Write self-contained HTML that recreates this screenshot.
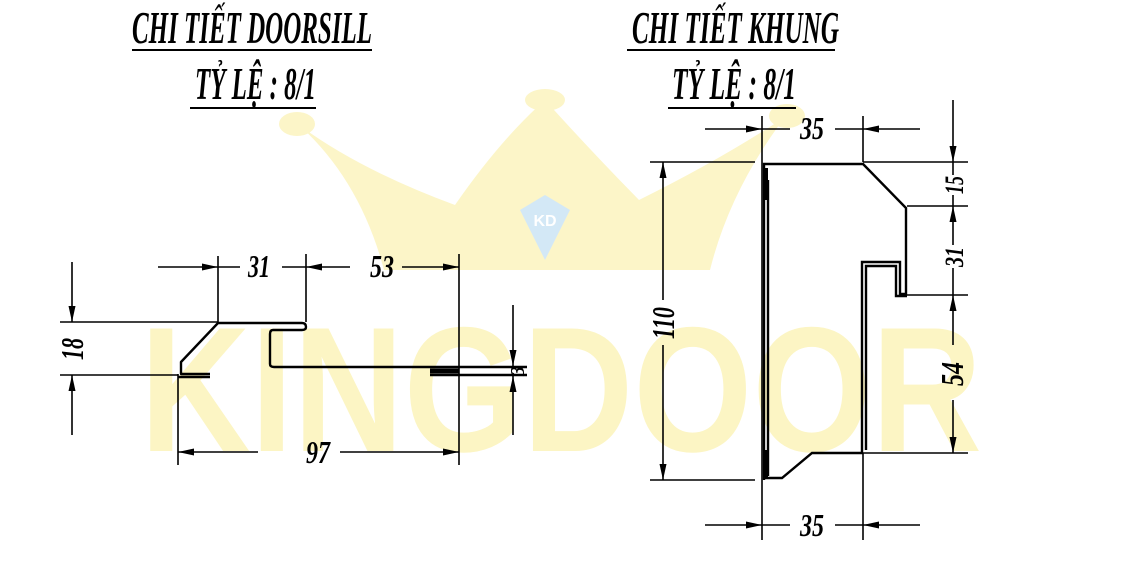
<!DOCTYPE html>
<html><head><meta charset="utf-8"><style>
html,body{margin:0;padding:0;background:#fff;}
svg{display:block;}
.t{font-family:"Liberation Serif",serif;font-style:italic;font-weight:bold;fill:#000;}
</style></head><body>
<svg width="1122" height="568" viewBox="0 0 1122 568" xmlns="http://www.w3.org/2000/svg">
<defs>
<marker id="a" viewBox="0 0 16 7" refX="16" refY="3.5" markerWidth="16" markerHeight="7" orient="auto" markerUnits="userSpaceOnUse" overflow="visible">
<path d="M0,0 L16,3.5 L0,7 z" fill="#000"/>
</marker>
</defs>
<!-- watermark crown -->
<g fill="#fcf5c8">
<path d="M299,125 Q360,170 455,205 Q500,140 545,100 Q590,150 639,200 Q720,160 785,117 Q730,190 710,270 L384,270 Q360,180 299,125 Z"/>
<ellipse cx="297" cy="124" rx="18" ry="12"/>
<ellipse cx="545" cy="100" rx="20" ry="11"/>
<ellipse cx="787" cy="116" rx="18" ry="12"/>
</g>
<path d="M520,210 L545,195 L570,210 L545,260 Z" fill="#d3e8f6"/>
<text x="545" y="226" font-family="Liberation Sans,sans-serif" font-weight="bold" font-size="16" fill="#fff" text-anchor="middle">KD</text>
<text x="140" y="451" font-family="Liberation Sans,sans-serif" font-weight="bold" font-size="178" fill="#fcf5c4" textLength="842" lengthAdjust="spacingAndGlyphs">KINGDOOR</text>

<!-- titles -->
<text class="t" x="132" y="43" font-size="46" textLength="240" lengthAdjust="spacingAndGlyphs">CHI TIẾT DOORSILL</text>
<line x1="132" y1="50" x2="372" y2="50" stroke="#000" stroke-width="2"/>
<text class="t" x="195" y="99" font-size="46" textLength="121" lengthAdjust="spacingAndGlyphs">TỶ LỆ : 8/1</text>
<line x1="190" y1="108" x2="316" y2="108" stroke="#000" stroke-width="2"/>
<text class="t" x="632" y="43" font-size="46" textLength="207" lengthAdjust="spacingAndGlyphs">CHI TIẾT KHUNG</text>
<line x1="627" y1="50" x2="835" y2="50" stroke="#000" stroke-width="2"/>
<text class="t" x="672" y="99" font-size="46" textLength="124" lengthAdjust="spacingAndGlyphs">TỶ LỆ : 8/1</text>
<line x1="668" y1="108" x2="796" y2="108" stroke="#000" stroke-width="2"/>

<g stroke="#000" stroke-width="1.6" fill="none">
<line x1="60" y1="322" x2="218" y2="322"/>
<line x1="60" y1="375" x2="178" y2="375"/>
<line x1="218" y1="256" x2="218" y2="322"/>
<line x1="306" y1="254" x2="306" y2="322"/>
<line x1="459" y1="254" x2="459" y2="465"/>
<line x1="178" y1="374" x2="178" y2="465"/>
<line x1="158" y1="267" x2="218" y2="267" marker-end="url(#a)"/>
<line x1="282" y1="267" x2="306" y2="267"/>
<line x1="350" y1="267" x2="306" y2="267" marker-end="url(#a)"/>
<line x1="402" y1="267" x2="459" y2="267" marker-end="url(#a)"/>
<line x1="218" y1="267" x2="240" y2="267"/>
<line x1="72" y1="262" x2="72" y2="322" marker-end="url(#a)"/>
<line x1="72" y1="435" x2="72" y2="375" marker-end="url(#a)"/>
<line x1="258" y1="452" x2="178" y2="452" marker-end="url(#a)"/>
<line x1="340" y1="452" x2="459" y2="452" marker-end="url(#a)"/>
<line x1="513" y1="305" x2="513" y2="366" marker-end="url(#a)"/>
<line x1="513" y1="435" x2="513" y2="376" marker-end="url(#a)"/>
</g>
<g stroke="#000" stroke-width="2.4" fill="none" stroke-linejoin="round">
<path d="M210,374 L181,374 L181,362 L218,323 L302,323 Q306,323 306,327 Q306,330 302,330 L273,330 Q270,330 270,334 L270,364 Q270,367 274,367 L527,367"/>
<path d="M210,377 L178,377" />
<path d="M430,375 L527,375"/>
</g>
<line x1="430" y1="371" x2="459" y2="371" stroke="#000" stroke-width="5"/>
<g class="t" font-size="32">
<text x="248" y="277" textLength="22" lengthAdjust="spacingAndGlyphs">31</text>
<text x="370" y="277" textLength="24" lengthAdjust="spacingAndGlyphs">53</text>
<text x="306" y="463" textLength="24" lengthAdjust="spacingAndGlyphs">97</text>
<text transform="translate(83,349) rotate(-90)" text-anchor="middle" textLength="22" lengthAdjust="spacingAndGlyphs">18</text>
<text transform="translate(524,371) rotate(-90)" text-anchor="middle" font-size="20">3</text>
</g>

<!-- KHUNG -->
<g stroke="#000" stroke-width="1.6" fill="none">
<line x1="650" y1="162" x2="755" y2="162"/>
<line x1="650" y1="480" x2="755" y2="480"/>
<line x1="762" y1="116" x2="762" y2="540"/>
<line x1="863" y1="116" x2="863" y2="162"/>
<line x1="863" y1="453" x2="863" y2="540"/>
<line x1="863" y1="162" x2="968" y2="162"/>
<line x1="907" y1="206" x2="968" y2="206"/>
<line x1="907" y1="295" x2="968" y2="295"/>
<line x1="862" y1="453" x2="968" y2="453"/>
<line x1="705" y1="129" x2="762" y2="129" marker-end="url(#a)"/>
<line x1="920" y1="129" x2="863" y2="129" marker-end="url(#a)"/>
<line x1="762" y1="129" x2="790" y2="129"/>
<line x1="835" y1="129" x2="863" y2="129"/>
<line x1="705" y1="525" x2="762" y2="525" marker-end="url(#a)"/>
<line x1="920" y1="525" x2="863" y2="525" marker-end="url(#a)"/>
<line x1="762" y1="525" x2="790" y2="525"/>
<line x1="835" y1="525" x2="863" y2="525"/>
<line x1="663" y1="300" x2="663" y2="162" marker-end="url(#a)"/>
<line x1="663" y1="345" x2="663" y2="480" marker-end="url(#a)"/>
<line x1="953" y1="100" x2="953" y2="162" marker-end="url(#a)"/>
<line x1="953" y1="162" x2="953" y2="175"/>
<line x1="953" y1="195" x2="953" y2="206"/>
<line x1="953" y1="245" x2="953" y2="206" marker-end="url(#a)"/>
<line x1="953" y1="268" x2="953" y2="295"/>
<line x1="953" y1="345" x2="953" y2="295" marker-end="url(#a)"/>
<line x1="953" y1="400" x2="953" y2="453" marker-end="url(#a)"/>
</g>
<g stroke="#000" stroke-width="2.4" fill="none" stroke-linejoin="miter">
<path d="M764,480 L764,164 L863,164 L906,208 L906,294 L900,294 L900,262 L862,262 L862,453 L812,453 L782,478 L764,478"/>
<path d="M768,476 L768,180"/>
<path d="M866,450 L866,266 L896,266 L896,296 L907,296"/>
</g>
<line x1="766" y1="168" x2="766" y2="200" stroke="#000" stroke-width="4"/>
<line x1="766" y1="450" x2="766" y2="478" stroke="#000" stroke-width="4"/>
<g class="t" font-size="32">
<text x="800" y="139" textLength="24" lengthAdjust="spacingAndGlyphs">35</text>
<text x="800" y="536" textLength="24" lengthAdjust="spacingAndGlyphs">35</text>
<text transform="translate(674,323) rotate(-90)" text-anchor="middle" textLength="32" lengthAdjust="spacingAndGlyphs">110</text>
<text transform="translate(963,185) rotate(-90)" text-anchor="middle" font-size="26" textLength="18" lengthAdjust="spacingAndGlyphs">15</text>
<text transform="translate(963,257) rotate(-90)" text-anchor="middle" font-size="26" textLength="20" lengthAdjust="spacingAndGlyphs">31</text>
<text transform="translate(963,374) rotate(-90)" text-anchor="middle" textLength="24" lengthAdjust="spacingAndGlyphs">54</text>
</g>
</svg>
</body></html>
